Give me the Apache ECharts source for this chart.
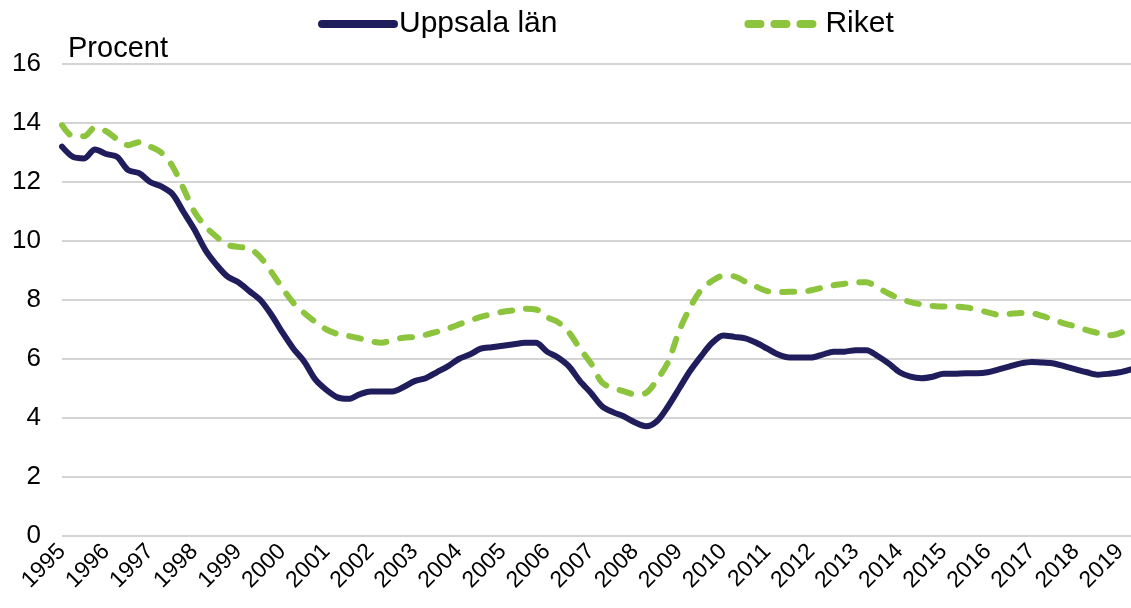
<!DOCTYPE html>
<html>
<head>
<meta charset="utf-8">
<script src="https://cdn.jsdelivr.net/npm/echarts@6/dist/echarts.min.js"></script>
<style>
  html, body { margin: 0; padding: 0; background: #fff; }
  #main { width: 1131px; height: 608px; }
</style>
</head>
<body>
<div id="main"></div>
<script>
// kvartal 1995K1 - 2019K2
var years = [1995, 1996, 1997, 1998, 1999, 2000, 2001, 2002, 2003, 2004, 2005, 2006, 2007,
  2008, 2009, 2010, 2011, 2012, 2013, 2014, 2015, 2016, 2017, 2018, 2019];
var lastQuarter = 2;

var uppsala = [
  13.2, 12.85, 12.8, 13.1, 12.95, 12.85, 12.4, 12.3, 12.0, 11.85,
  11.6, 11.0, 10.4, 9.7, 9.2, 8.8, 8.6, 8.3, 8.0, 7.5,
  6.9, 6.35, 5.9, 5.3, 4.95, 4.7, 4.65, 4.8, 4.9, 4.9,
  4.9, 5.05, 5.25, 5.35, 5.55, 5.75, 6.0, 6.15, 6.35, 6.4,
  6.45, 6.5, 6.55, 6.55, 6.25, 6.05, 5.75, 5.25, 4.85, 4.4,
  4.2, 4.05, 3.85, 3.72, 3.9, 4.4, 5.0, 5.6, 6.1, 6.55,
  6.8, 6.75, 6.7, 6.55, 6.35, 6.15, 6.05, 6.05, 6.05, 6.15,
  6.25, 6.25, 6.3, 6.3, 6.1, 5.85, 5.55, 5.4, 5.35, 5.4,
  5.5, 5.5, 5.52, 5.52, 5.55, 5.65, 5.75, 5.85, 5.9, 5.88,
  5.85, 5.75, 5.65, 5.55, 5.47, 5.5, 5.55, 5.65
];

var riket = [
  13.93, 13.55, 13.55, 13.85, 13.72, 13.45, 13.25, 13.35, 13.2, 13.0,
  12.55, 11.8, 11.0, 10.5, 10.15, 9.87, 9.8, 9.75, 9.45, 8.95,
  8.4, 7.9, 7.55, 7.25, 7.0, 6.85, 6.78, 6.7, 6.6, 6.55,
  6.65, 6.72, 6.75, 6.82, 6.92, 7.03, 7.17, 7.3, 7.43, 7.52,
  7.6, 7.65, 7.7, 7.68, 7.42, 7.25, 6.9, 6.35, 5.85, 5.2,
  5.02, 4.9, 4.8, 4.85, 5.3, 5.9, 6.95, 7.75, 8.35, 8.65,
  8.82, 8.8, 8.62, 8.45, 8.3, 8.27, 8.28, 8.28, 8.33, 8.42,
  8.5, 8.55, 8.6, 8.6, 8.42, 8.22, 8.05, 7.93, 7.85, 7.8,
  7.78, 7.78, 7.75, 7.68, 7.58, 7.5, 7.53, 7.56, 7.55, 7.45,
  7.33, 7.2, 7.1, 6.98, 6.88, 6.8, 6.88, 7.05
];

var categories = [];
years.forEach(function (y, i) {
  var n = (i == years.length - 1) ? lastQuarter : 4;
  for (var k = 1; k <= n; k++) {
    categories.push(y + 'K' + k);
  }
});

var chart = echarts.init(document.getElementById('main'), null, { renderer: 'canvas' });

var font = 'Liberation Sans, Arial, sans-serif';

var option = {
  animation: false,
  textStyle: { fontFamily: font },
  legend: {
    top: 4,
    left: 313,
    itemWidth: 72,
    itemHeight: 14,
    itemGap: 187,
    itemStyle: { opacity: 0 },
    lineStyle: { width: 8, cap: 'round' },
    textStyle: { fontSize: 30, color: '#000', fontFamily: font },
    data: ['Uppsala län', 'Riket']
  },
  grid: {
    left: 62,
    right: 0,
    top: 64,
    bottom: 72,
    containLabel: false
  },
  xAxis: {
    type: 'category',
    data: categories,
    boundaryGap: false,
    axisLine: { show: false },
    axisTick: { show: false },
    splitLine: { show: false },
    axisLabel: {
      interval: 3,
      rotate: 45,
      margin: 12,
      fontSize: 23,
      color: '#000',
      fontFamily: font,
      formatter: function (v) { return v.slice(0, 4); }
    }
  },
  yAxis: {
    type: 'value',
    min: 0,
    max: 16,
    interval: 2,
    name: 'Procent',
    nameGap: 1,
    nameTextStyle: { fontSize: 29, color: '#000', align: 'left', padding: [0, 0, 0, 6], fontFamily: font },
    axisLine: { show: false },
    axisTick: { show: false },
    axisLabel: { fontSize: 26, color: '#000', margin: 21, fontFamily: font },
    splitLine: { lineStyle: { color: '#d4d4d4', width: 2 } }
  },
  series: [
    {
      name: 'Uppsala län',
      type: 'line',
      data: uppsala,
      smooth: 0.3,
      symbol: 'none',
      itemStyle: { color: '#201d5c' },
      lineStyle: { color: '#201d5c', width: 6, cap: 'round', join: 'round' },
      z: 3
    },
    {
      name: 'Riket',
      type: 'line',
      data: riket,
      smooth: 0.3,
      symbol: 'none',
      itemStyle: { color: '#8cc43e' },
      lineStyle: { color: '#8cc43e', width: 6, type: [12, 14], cap: 'round', join: 'round' },
      z: 2
    }
  ]
};

chart.setOption(option);
</script>
</body>
</html>
